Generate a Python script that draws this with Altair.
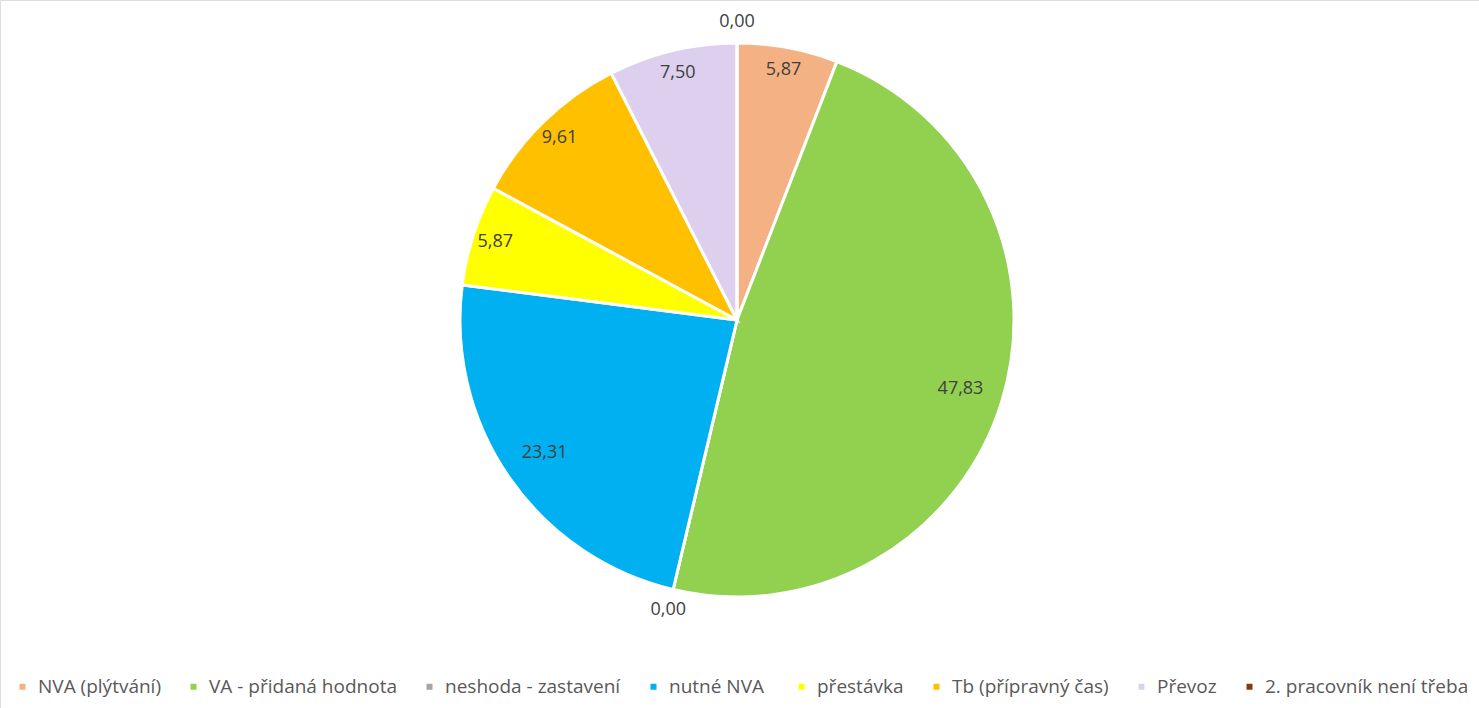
import altair as alt
import pandas as pd

categories = ["NVA (plýtvání)", "VA - přidaná hodnota", "neshoda - zastavení", "nutné  NVA",
              "přestávka", "Tb (přípravný čas)", "Převoz", "2. pracovník není třeba"]
values = [5.87, 47.83, 0.00, 23.31, 5.87, 9.61, 7.50, 0.00]
labels = ["5,87", "47,83", "0,00", "23,31", "5,87", "9,61", "7,50", "0,00"]
colors = ["#F4B183", "#92D050", "#A5A5A5", "#00B0F0", "#FFFF00", "#FFC000", "#DDD0EE", "#843C0C"]

df = pd.DataFrame({"cat": categories, "value": values, "label": labels,
                   "order": list(range(len(categories)))})
total = sum(values)

CX, CY, R = 737, 320, 277
FONT = "Open Sans"

base = alt.Chart(df).transform_window(
    end="sum(value)", sort=[alt.SortField("order", order="ascending")], frame=[None, 0]
).transform_calculate(
    start="datum.end - datum.value",
    mid="datum.end - datum.value / 2",
    r="datum.value == 0 ? 298 : (datum.value > 20 ? 234 : 254)",
)

theta_scale = alt.Scale(domain=[0, total], range=[0, 6.283185307179586])

pie = base.mark_arc(outerRadius=R, stroke="white", strokeWidth=3).encode(
    theta=alt.Theta("start:Q", scale=theta_scale, stack=None),
    theta2="end:Q",
    color=alt.Color(
        "cat:N",
        scale=alt.Scale(domain=categories, range=colors),
        sort=categories,
        legend=alt.Legend(
            title=None, orient="none", direction="horizontal", columns=8,
            legendX=13, legendY=677, symbolType="square", symbolSize=36,
            symbolStrokeWidth=0, labelFontSize=19, labelFont=FONT,
            labelColor="#595959", columnPadding=23, labelLimit=500,
            labelOffset=6,
        ),
    ),
    x=alt.value(CX), y=alt.value(CY),
)

text = base.mark_text(fontSize=18, font=FONT, color="#404040").encode(
    theta=alt.Theta("mid:Q", scale=theta_scale, stack=None),
    text="label:N",
    radius=alt.Radius("r:Q", scale=None),
    x=alt.value(CX), y=alt.value(CY),
)

chart = alt.layer(pie, text).properties(
    width=1479, height=708,
    autosize=alt.AutoSizeParams(type="none"),
    padding=0,
).configure_view(stroke=None).configure(background="white")

chart.save("out.html", embed_options={"renderer": "svg", "actions": False})
